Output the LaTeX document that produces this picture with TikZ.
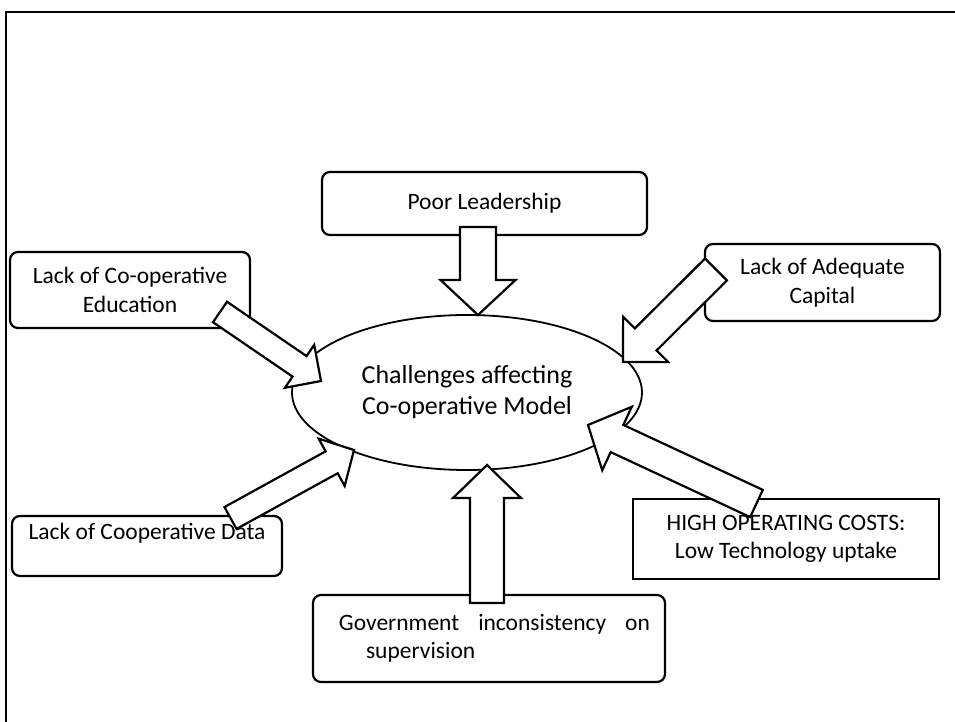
\documentclass[tikz,border=0pt]{standalone}
\usepackage{fontspec}
\setmainfont{Carlito}
\usetikzlibrary{calc,shapes.geometric}
\newcommand\blockarrow[5]{%
  \coordinate (tmpb) at ($(#2)!#5!(#1)$);
  \draw[barrow] ($(#1)!#3!90:(#2)$) -- ($(tmpb)!#3!90:(#2)$) -- ($(tmpb)!#4!90:(#2)$) -- (#2)
    -- ($(tmpb)!#4!-90:(#2)$) -- ($(tmpb)!#3!-90:(#2)$) -- ($(#1)!#3!-90:(#2)$) -- cycle;}
\begin{document}
\begin{tikzpicture}[x=0.5pt,y=-0.5pt,
  box/.style={draw,line width=1.1pt,rounded corners=4pt,align=center,inner sep=0pt,
    font=\fontsize{11.75}{14.3}\selectfont},
  sqbox/.style={box,sharp corners},
  barrow/.style={draw,line width=1.1pt,fill=white,line join=miter,miter limit=10},
  frame/.style={line width=1.1pt}]
\useasboundingbox (0,0) rectangle (955,722);
\draw[frame] (955,12) -- (6,12) -- (6,722);

\node[box,minimum width=162.5pt,minimum height=31.5pt] (poor) at (484.5,203.5) {Poor Leadership};
\node[box,minimum width=120pt,minimum height=38pt] (edu) at (130,290) {Lack of Co-operative\\Education};
\node[box,minimum width=117.5pt,minimum height=38.5pt] (cap) at (822.5,282.5) {Lack of Adequate\\Capital};
\node[box,minimum width=135pt,minimum height=30pt] (data) at (147,546) {Lack of Cooperative Data\\\mbox{}};
\node[box,minimum width=176pt,minimum height=43.5pt] (gov) at (489,638.5)
  {\hspace*{5.5pt}\parbox{155.5pt}{Government\hfill inconsistency\hfill on\\\hspace*{13.5pt}supervision}};
\node[sqbox,minimum width=153pt,minimum height=40pt] (cost) at (786,539) {HIGH OPERATING COSTS:\\Low Technology uptake};
\node[draw,ellipse,line width=0.9pt,minimum width=175pt,minimum height=77.5pt,inner sep=0pt,align=center,
  font=\fontsize{13}{15.5}\selectfont] (ch) at (467,392.5) {Challenges affecting\\Co-operative Model};

\coordinate (poorT) at (478,227);   \coordinate (poorP) at (478,315);
\coordinate (govT)  at (487,603);   \coordinate (govP)  at (487,465);
\coordinate (eduT)  at (220,312);   \coordinate (eduP)  at (321,381);
\coordinate (dataT) at (230.5,518); \coordinate (dataP) at (354,450);
\coordinate (capT)  at (716,269.5); \coordinate (capP)  at (623,362);
\coordinate (costT) at (756.5,503.5); \coordinate (costP) at (588,425);

\blockarrow{poorT}{poorP}{9pt}{18.75pt}{17.5pt}
\blockarrow{govT}{govP}{8.5pt}{17pt}{16.5pt}
\blockarrow{eduT}{eduP}{6.2pt}{13pt}{13pt}
\blockarrow{dataT}{dataP}{6.25pt}{13.5pt}{12.75pt}
\blockarrow{capT}{capP}{7.75pt}{16pt}{16pt}
\blockarrow{costT}{costP}{7.5pt}{17.5pt}{16pt}
\end{tikzpicture}
\end{document}
